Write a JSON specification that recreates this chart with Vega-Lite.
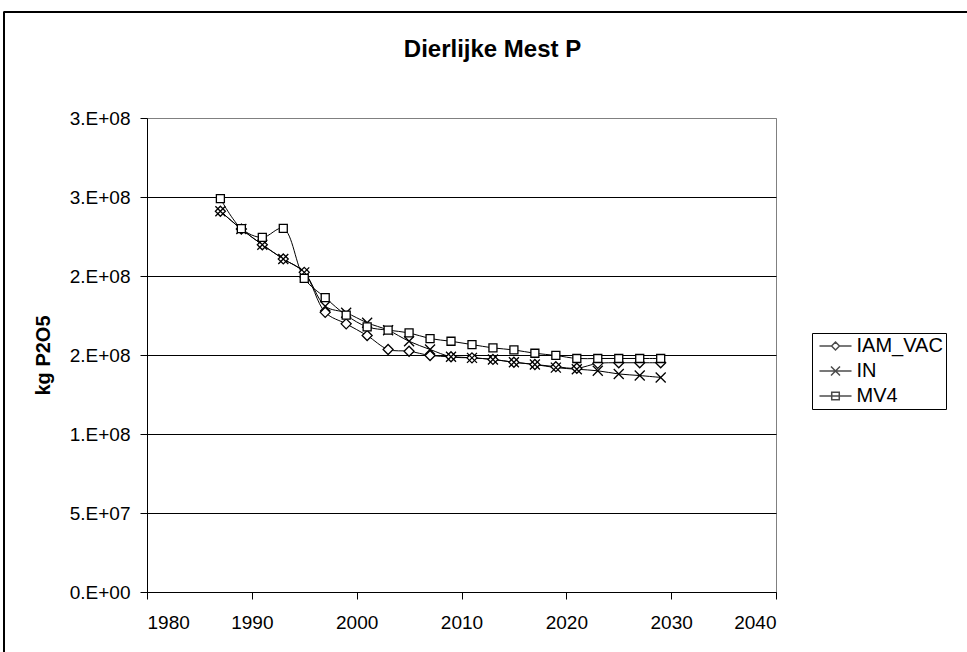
{
  "$schema": "https://vega.github.io/schema/vega-lite/v6.json",
  "width": 629,
  "height": 474,
  "autosize": {"type": "none"},
  "padding": {"left": 147, "top": 118, "right": 191, "bottom": 60},
  "background": "white",
  "config": {
    "font": "Liberation Sans",
    "view": {"stroke": "#808080", "strokeWidth": 1}
  },
  "title": {
    "text": "Dierlijke Mest P",
    "font": "Liberation Sans",
    "fontSize": 24,
    "fontWeight": "bold",
    "color": "black",
    "anchor": "middle",
    "frame": "group",
    "baseline": "alphabetic",
    "dx": 31,
    "offset": 0,
    "dy": 70
  },
  "datasets": {
    "mest": [
      {"year": 1987, "series": "IAM_VAC", "kg": 241000000},
      {"year": 1989, "series": "IAM_VAC", "kg": 229700000},
      {"year": 1991, "series": "IAM_VAC", "kg": 219800000},
      {"year": 1993, "series": "IAM_VAC", "kg": 210800000},
      {"year": 1995, "series": "IAM_VAC", "kg": 202300000},
      {"year": 1997, "series": "IAM_VAC", "kg": 177000000},
      {"year": 1999, "series": "IAM_VAC", "kg": 169700000},
      {"year": 2001, "series": "IAM_VAC", "kg": 162300000},
      {"year": 2003, "series": "IAM_VAC", "kg": 153500000},
      {"year": 2005, "series": "IAM_VAC", "kg": 152400000},
      {"year": 2007, "series": "IAM_VAC", "kg": 149700000},
      {"year": 2009, "series": "IAM_VAC", "kg": 148900000},
      {"year": 2011, "series": "IAM_VAC", "kg": 148200000},
      {"year": 2013, "series": "IAM_VAC", "kg": 147200000},
      {"year": 2015, "series": "IAM_VAC", "kg": 145400000},
      {"year": 2017, "series": "IAM_VAC", "kg": 144000000},
      {"year": 2019, "series": "IAM_VAC", "kg": 142600000},
      {"year": 2021, "series": "IAM_VAC", "kg": 141600000},
      {"year": 2023, "series": "IAM_VAC", "kg": 144700000},
      {"year": 2025, "series": "IAM_VAC", "kg": 145100000},
      {"year": 2027, "series": "IAM_VAC", "kg": 145100000},
      {"year": 2029, "series": "IAM_VAC", "kg": 145100000},
      {"year": 1987, "series": "IN", "kg": 241000000},
      {"year": 1989, "series": "IN", "kg": 229700000},
      {"year": 1991, "series": "IN", "kg": 219800000},
      {"year": 1993, "series": "IN", "kg": 210800000},
      {"year": 1995, "series": "IN", "kg": 202300000},
      {"year": 1997, "series": "IN", "kg": 180900000},
      {"year": 1999, "series": "IN", "kg": 176700000},
      {"year": 2001, "series": "IN", "kg": 170400000},
      {"year": 2003, "series": "IN", "kg": 165700000},
      {"year": 2005, "series": "IN", "kg": 158700000},
      {"year": 2007, "series": "IN", "kg": 153500000},
      {"year": 2009, "series": "IN", "kg": 148900000},
      {"year": 2011, "series": "IN", "kg": 148200000},
      {"year": 2013, "series": "IN", "kg": 147200000},
      {"year": 2015, "series": "IN", "kg": 145400000},
      {"year": 2017, "series": "IN", "kg": 144000000},
      {"year": 2019, "series": "IN", "kg": 142000000},
      {"year": 2021, "series": "IN", "kg": 141000000},
      {"year": 2023, "series": "IN", "kg": 140000000},
      {"year": 2025, "series": "IN", "kg": 138000000},
      {"year": 2027, "series": "IN", "kg": 137000000},
      {"year": 2029, "series": "IN", "kg": 135800000},
      {"year": 1987, "series": "MV4", "kg": 249000000},
      {"year": 1989, "series": "MV4", "kg": 230000000},
      {"year": 1991, "series": "MV4", "kg": 224400000},
      {"year": 1993, "series": "MV4", "kg": 230100000},
      {"year": 1995, "series": "MV4", "kg": 198500000},
      {"year": 1997, "series": "MV4", "kg": 186300000},
      {"year": 1999, "series": "MV4", "kg": 175200000},
      {"year": 2001, "series": "MV4", "kg": 167800000},
      {"year": 2003, "series": "MV4", "kg": 165700000},
      {"year": 2005, "series": "MV4", "kg": 164000000},
      {"year": 2007, "series": "MV4", "kg": 160400000},
      {"year": 2009, "series": "MV4", "kg": 158700000},
      {"year": 2011, "series": "MV4", "kg": 156600000},
      {"year": 2013, "series": "MV4", "kg": 154500000},
      {"year": 2015, "series": "MV4", "kg": 153200000},
      {"year": 2017, "series": "MV4", "kg": 151100000},
      {"year": 2019, "series": "MV4", "kg": 149700000},
      {"year": 2021, "series": "MV4", "kg": 147800000},
      {"year": 2023, "series": "MV4", "kg": 147800000},
      {"year": 2025, "series": "MV4", "kg": 147800000},
      {"year": 2027, "series": "MV4", "kg": 147800000},
      {"year": 2029, "series": "MV4", "kg": 147800000}
    ]
  },
  "data": {"name": "mest"},
  "resolve": {"scale": {"shape": "independent"}, "legend": {"shape": "independent"}},
  "layer": [
    {
      "description": "outer chart frame, expressed in data coordinates",
      "mark": {"type": "rect", "fill": null, "stroke": "black", "strokeWidth": 1, "clip": false},
      "encoding": {
        "x": {"datum": 1966.36, "type": "quantitative", "scale": {"domain": [1980, 2040], "nice": false, "zero": false}},
        "x2": {"datum": 2100},
        "y": {"datum": 367100000, "type": "quantitative", "scale": {"domain": [0, 300000000], "nice": false}},
        "y2": {"datum": -200000000}
      }
    },
    {
      "mark": {"type": "line", "interpolate": "catmull-rom", "stroke": "black", "strokeWidth": 1},
      "encoding": {
        "x": {
          "field": "year",
          "type": "quantitative",
          "scale": {"domain": [1980, 2040], "nice": false, "zero": false},
          "axis": {
            "title": null,
            "values": [1980, 1990, 2000, 2010, 2020, 2030, 2040],
            "format": "d",
            "grid": false,
            "domainColor": "black",
            "tickColor": "black",
            "tickSize": 7,
            "labelFont": "Liberation Sans",
            "labelFontSize": 19,
            "labelColor": "black",
            "labelPadding": 14
          }
        },
        "y": {
          "field": "kg",
          "type": "quantitative",
          "scale": {"domain": [0, 300000000], "nice": false},
          "axis": {
            "title": "kg P2O5",
            "values": [0, 50000000, 100000000, 150000000, 200000000, 250000000, 300000000],
            "labelExpr": "datum.value == 0 ? '0.E+00' : round(datum.value / pow(10, floor(log(datum.value) / LN10 + 1e-9))) + '.E+' + (floor(log(datum.value) / LN10 + 1e-9) < 10 ? '0' : '') + floor(log(datum.value) / LN10 + 1e-9)",
            "grid": true,
            "gridColor": {"condition": {"test": "datum.value >= 300000000", "value": "#808080"}, "value": "black"},
            "gridOpacity": 1,
            "gridWidth": 1,
            "domainColor": "black",
            "tickColor": "black",
            "tickSize": 7,
            "labelFont": "Liberation Sans",
            "labelFontSize": 19,
            "labelColor": "black",
            "labelPadding": 10,
            "titleFont": "Liberation Sans",
            "titleFontSize": 20,
            "titleFontWeight": "bold",
            "titleColor": "black",
            "titleAngle": -90,
            "titleAlign": "center",
            "titleBaseline": "middle",
            "titleX": -104,
            "titleY": 237
          }
        },
        "detail": {"field": "series", "type": "nominal"}
      }
    },
    {
      "mark": {"type": "point", "filled": false, "fill": "white", "stroke": "black", "strokeWidth": 1.3, "size": 100, "opacity": 1},
      "encoding": {
        "x": {"field": "year", "type": "quantitative", "scale": {"domain": [1980, 2040], "nice": false, "zero": false}},
        "y": {"field": "kg", "type": "quantitative", "scale": {"domain": [0, 300000000], "nice": false}},
        "shape": {
          "field": "series",
          "type": "nominal",
          "scale": {
            "domain": ["IAM_VAC", "IN", "MV4"],
            "range": ["M0,-1L1,0L0,1L-1,0Z", "M-1,-1L1,1M-1,1L1,-1", "M-0.8,-0.8H0.8V0.8H-0.8Z"]
          },
          "legend": null
        }
      }
    },
    {
      "description": "zero-size points that only carry the line-and-marker legend",
      "mark": {"type": "point", "filled": false, "fill": "white", "stroke": "black", "strokeWidth": 1, "size": 0},
      "encoding": {
        "x": {"field": "year", "type": "quantitative", "scale": {"domain": [1980, 2040], "nice": false, "zero": false}},
        "y": {"field": "kg", "type": "quantitative", "scale": {"domain": [0, 300000000], "nice": false}},
        "shape": {
          "field": "series",
          "type": "nominal",
          "scale": {
            "domain": ["IAM_VAC", "IN", "MV4"],
            "range": [
              "M-1.78,0H-0.44M0.44,0H1.78M0,-0.44L0.44,0L0,0.44L-0.44,0Z",
              "M-1.78,0H1.78M-0.5,-0.5L0.5,0.5M-0.5,0.5L0.5,-0.5",
              "M-1.78,0H1.78M-0.42,-0.42H0.42V0.42H-0.42Z"
            ]
          },
          "legend": {
            "title": null,
            "orient": "none",
            "legendX": 665,
            "legendY": 215,
            "strokeColor": "black",
            "padding": 3,
            "labelFont": "Liberation Sans",
            "labelFontSize": 20,
            "labelColor": "black",
            "labelExpr": "datum.label + '      '",
            "labelOffset": 11,
            "symbolSize": 324,
            "symbolOffset": 10.5,
            "rowPadding": 5
          }
        }
      }
    }
  ]
}
